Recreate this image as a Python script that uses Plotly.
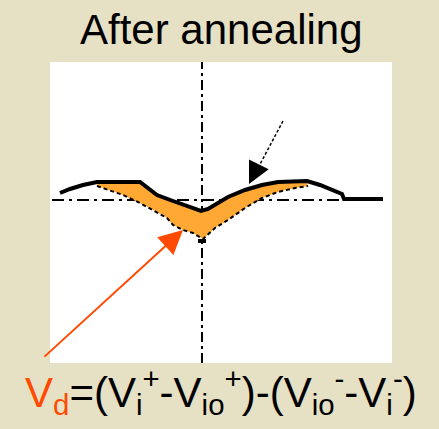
import plotly.graph_objects as go

# ---- data (voltage-like x, response-like y; axes cross at 0) ----
upper_x = [-1.42, -1.32, -1.19, -1.05, -0.62, -0.52, -0.45, -0.29, -0.15, -0.01,
           0.06, 0.26, 0.43, 0.60, 0.76, 1.05, 1.18, 1.31, 1.40, 1.42, 1.81]
upper_y = [0.07, 0.11, 0.15, 0.18, 0.18, 0.11, 0.05, -0.01, -0.06, -0.11,
           -0.09, 0.03, 0.10, 0.15, 0.18, 0.19, 0.15, 0.10, 0.06, 0.01, 0.01]

lower_x = [-1.05, -0.79, -0.62, -0.45, -0.35, -0.29, -0.19, -0.09, 0.01,
           0.13, 0.26, 0.43, 0.60, 0.76, 0.93, 1.06]
lower_y = [0.14, 0.05, -0.03, -0.12, -0.18, -0.25, -0.30, -0.33, -0.39,
           -0.28, -0.20, -0.08, 0.02, 0.08, 0.12, 0.14]

title_text = "After annealing"
formula_text = ("<span style='color:#FF4A00'>V<sub>d</sub></span>"
                "=(V<sub>i</sub><sup>+</sup>-V<sub>io</sub><sup>+</sup>)"
                "-(V<sub>io</sub><sup>-</sup>-V<sub>i</sub><sup>-</sup>)")

ORANGE = "#FFA833"
RED_OR = "#FF4A00"
BG = "#E6E0C5"
Y_RANGE = [-1.63, 1.38]

# orange band: upper curve segment between lower-curve endpoints, then lower curve reversed
seg = [(x, y) for x, y in zip(upper_x, upper_y) if lower_x[0] <= x <= lower_x[-1]]
band_x = [lower_x[0]] + [p[0] for p in seg] + [lower_x[-1]] + lower_x[::-1]
band_y = [lower_y[0]] + [p[1] for p in seg] + [lower_y[-1]] + lower_y[::-1]

fig = go.Figure()
fig.add_trace(go.Scatter(x=band_x, y=band_y, fill="toself", fillcolor=ORANGE,
                         mode="lines", line=dict(width=0, color=ORANGE),
                         hoverinfo="skip", showlegend=False))
fig.add_trace(go.Scatter(x=lower_x, y=lower_y, mode="lines",
                         line=dict(color="black", width=2, dash="4px,3px"),
                         showlegend=False))
fig.add_trace(go.Scatter(x=upper_x, y=upper_y, mode="lines",
                         line=dict(color="black", width=4),
                         showlegend=False))

# axes drawn as dash-dot lines
fig.add_shape(type="line", xref="x", yref="y", x0=0, x1=0, y0=Y_RANGE[0], y1=Y_RANGE[1],
              line=dict(color="black", width=2, dash="10px,4px,3px,4px"), layer="below")
fig.add_shape(type="line", xref="x", yref="y", x0=-1.50, x1=1.41, y0=0, y1=0,
              line=dict(color="black", width=2, dash="12px,5px,3px,5px"), layer="below")
# small black mark on the axis below the minimum
fig.add_shape(type="line", xref="x", yref="y", x0=-0.04, x1=0.04, y0=-0.41, y1=-0.41,
              line=dict(color="black", width=4))

# black dashed pointer
fig.add_shape(type="line", xref="x", yref="y", x0=0.81, y0=0.79, x1=0.56, y1=0.32,
              line=dict(color="black", width=1.5, dash="3px,2px"))
fig.add_annotation(x=0.47, y=0.16, xref="x", yref="y", ax=10, ay=-20,
                   text="", showarrow=True, arrowhead=2, arrowsize=2.2,
                   arrowwidth=2, arrowcolor="black")

# orange pointer
fig.add_annotation(x=-0.19, y=-0.30, xref="x", yref="y", ax=-140, ay=128,
                   text="", showarrow=True, arrowhead=2, arrowsize=2.4,
                   arrowwidth=2, arrowcolor=RED_OR)

fig.add_annotation(x=0.5, y=1.108, xref="paper", yref="paper", text=title_text,
                   xanchor="center", yanchor="middle", showarrow=False,
                   font=dict(family="Liberation Sans, Arial", size=42, color="black"))
fig.add_annotation(x=0.5, y=-0.095, xref="paper", yref="paper", text=formula_text,
                   xanchor="center", yanchor="middle", showarrow=False,
                   font=dict(family="Liberation Sans, Arial", size=42, color="black"))

fig.update_xaxes(range=[-1.52, 1.90], visible=False)
fig.update_yaxes(range=Y_RANGE, visible=False)
fig.update_layout(width=439, height=429, margin=dict(l=50, r=47, t=62, b=66),
                  paper_bgcolor=BG, plot_bgcolor="white", showlegend=False)

fig.write_html("out.html")
